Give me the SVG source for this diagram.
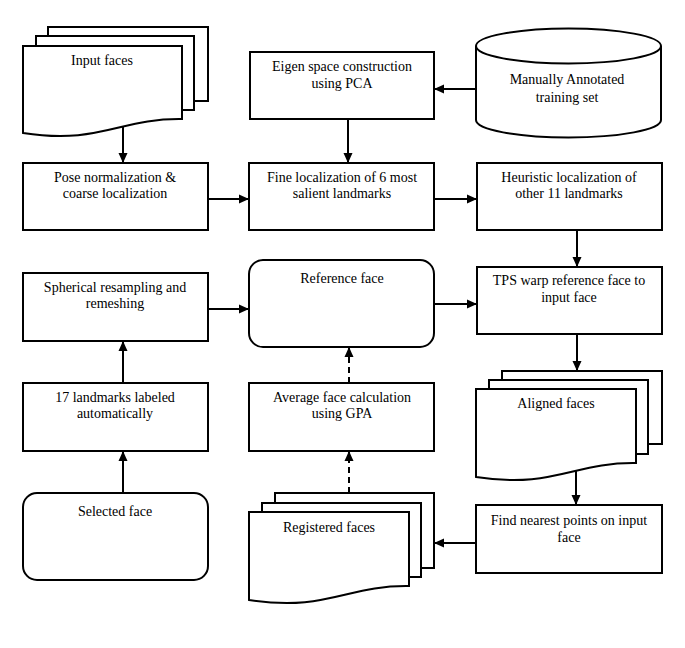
<svg xmlns="http://www.w3.org/2000/svg" width="685" height="648" viewBox="0 0 685 648">
<style>
.s{fill:#fff;stroke:#000;stroke-width:2}
.t{font-family:"Liberation Serif","Times New Roman",serif;font-size:14px;fill:#000;text-anchor:middle}
.c{fill:none;stroke:#000;stroke-width:2}
.d{stroke-dasharray:6 4}
</style>
<defs>
<marker id="ah" markerUnits="userSpaceOnUse" markerWidth="12" markerHeight="12" viewBox="0 0 12 12" refX="11" refY="6" orient="auto">
<path d="M1,1.5 L11,6 L1,10.5 Z" fill="#000"/>
</marker>
</defs>
<rect width="685" height="648" fill="#fff"/>

<g id="input-faces">
<rect class="s" x="48" y="27" width="160" height="74"/>
<rect class="s" x="36" y="36" width="158" height="74"/>
<path class="s" d="M23,46 H182 V119 C120,118 100,145 23,133 Z"/>
<text class="t" x="102" y="65">Input faces</text>
</g>

<g id="eigen">
<rect class="s" x="250" y="52" width="184" height="67"/>
<text class="t" x="342" y="71">Eigen space construction</text>
<text class="t" x="342" y="88">using PCA</text>
</g>

<g id="training-set">
<path class="s" d="M476,46 V120 A92.5,17.5 0 0 0 661,120 V46"/>
<ellipse class="s" cx="568.5" cy="46" rx="92.5" ry="17.5"/>
<text class="t" x="567" y="84">Manually Annotated</text>
<text class="t" x="567" y="102">training set</text>
</g>

<g id="pose">
<rect class="s" x="23" y="163" width="185" height="67"/>
<text class="t" x="115" y="182">Pose normalization &amp;</text>
<text class="t" x="115" y="198">coarse localization</text>
</g>

<g id="fine">
<rect class="s" x="249" y="163" width="185" height="67"/>
<text class="t" x="342" y="182">Fine localization of 6 most</text>
<text class="t" x="342" y="198">salient landmarks</text>
</g>

<g id="heuristic">
<rect class="s" x="477" y="163" width="185" height="67"/>
<text class="t" x="569" y="182">Heuristic localization of</text>
<text class="t" x="569" y="198">other 11 landmarks</text>
</g>

<g id="spherical">
<rect class="s" x="23" y="273" width="185" height="68"/>
<text class="t" x="115" y="292">Spherical resampling and</text>
<text class="t" x="115" y="308">remeshing</text>
</g>

<g id="reference">
<rect class="s" x="249" y="260" width="185" height="87" rx="14" ry="14"/>
<text class="t" x="342" y="283">Reference face</text>
</g>

<g id="tps">
<rect class="s" x="477" y="267" width="185" height="67"/>
<text class="t" x="569" y="285">TPS warp reference face to</text>
<text class="t" x="569" y="302">input face</text>
</g>

<g id="landmarks17">
<rect class="s" x="23" y="383" width="185" height="68"/>
<text class="t" x="115" y="402">17 landmarks labeled</text>
<text class="t" x="115" y="418">automatically</text>
</g>

<g id="average">
<rect class="s" x="249" y="383" width="185" height="68"/>
<text class="t" x="342" y="402">Average face calculation</text>
<text class="t" x="342" y="418">using GPA</text>
</g>

<g id="aligned-faces">
<rect class="s" x="502" y="371" width="160" height="73"/>
<rect class="s" x="489" y="380" width="159" height="74"/>
<path class="s" d="M476,389 H636 V463 C574,462 554,489 476,477 Z"/>
<text class="t" x="556" y="408">Aligned faces</text>
</g>

<g id="selected">
<rect class="s" x="23" y="493" width="185" height="87" rx="14" ry="14"/>
<text class="t" x="115" y="516">Selected face</text>
</g>

<g id="registered-faces">
<rect class="s" x="275" y="493" width="159" height="75"/>
<rect class="s" x="262" y="503" width="159" height="74"/>
<path class="s" d="M249,512 H409 V586 C347,585 327,612 249,600 Z"/>
<text class="t" x="329" y="532">Registered faces</text>
</g>

<g id="find">
<rect class="s" x="476" y="505" width="186" height="68"/>
<text class="t" x="569" y="525">Find nearest points on input</text>
<text class="t" x="569" y="542">face</text>
</g>

<g id="connectors">
<path class="c" d="M123,127 V163" marker-end="url(#ah)"/>
<path class="c" d="M348,119 V163" marker-end="url(#ah)"/>
<path class="c" d="M476,89 H434" marker-end="url(#ah)"/>
<path class="c" d="M208,199 H249" marker-end="url(#ah)"/>
<path class="c" d="M434,199 H477" marker-end="url(#ah)"/>
<path class="c" d="M577,230 V267" marker-end="url(#ah)"/>
<path class="c" d="M208,309 H249" marker-end="url(#ah)"/>
<path class="c" d="M434,304 H477" marker-end="url(#ah)"/>
<path class="c" d="M577,334 V371" marker-end="url(#ah)"/>
<path class="c" d="M576,470 V505" marker-end="url(#ah)"/>
<path class="c" d="M476,543 H434" marker-end="url(#ah)"/>
<path class="c" d="M123,383 V341" marker-end="url(#ah)"/>
<path class="c" d="M123,493 V451" marker-end="url(#ah)"/>
<path class="c d" d="M349,383 V347" marker-end="url(#ah)"/>
<path class="c d" d="M349,493 V451" marker-end="url(#ah)"/>
</g>
</svg>
